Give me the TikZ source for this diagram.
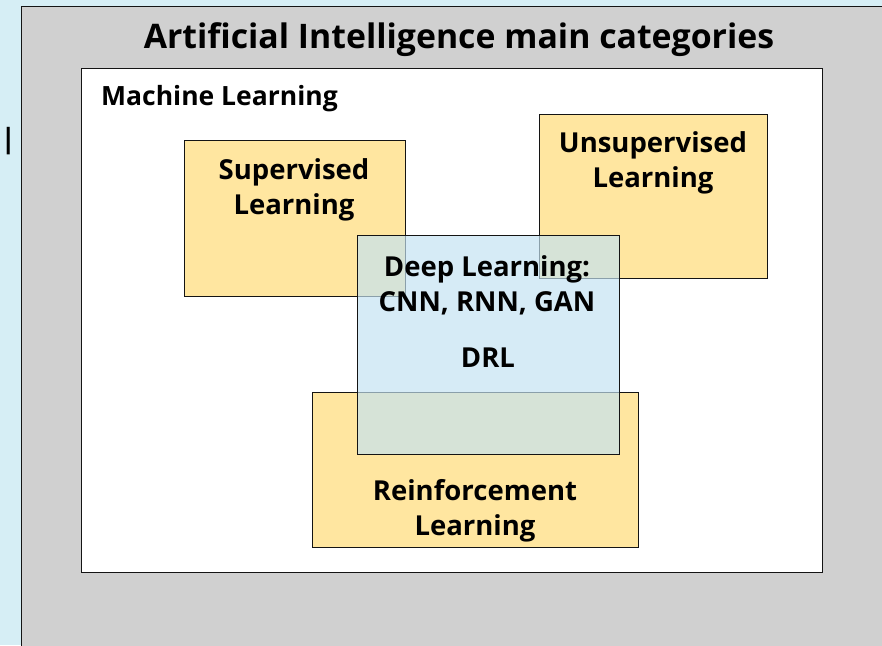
\documentclass[tikz,border=0pt]{standalone}
\usepackage{fontspec}
\setmainfont{Open Sans}
\definecolor{sidebg}{RGB}{214,238,245}
\definecolor{panelgray}{RGB}{208,208,208}
\definecolor{softgold}{RGB}{255,230,160}
\definecolor{dlblue}{RGB}{195,226,242}
\definecolor{edge}{RGB}{20,20,20}
\tikzset{
  area/.style={draw=edge, line width=1.4pt, anchor=north west, inner sep=0pt, rectangle},
  catbox/.style={area, fill=softgold},
  lbl/.style={font=\bfseries\fontsize{27.5}{35}\selectfont, text=black, align=center, inner sep=0pt},
}
\begin{document}
\begin{tikzpicture}[x=1pt, y=-1pt]
  % page
  \fill[sidebg] (0,0) rectangle (882,645);
  \useasboundingbox (0,0) rectangle (882,645);
  % outer AI panel
  \node[area, fill=panelgray, minimum width=870pt, minimum height=650pt] (ai) at (20.5,5.5) {};
  \node[font=\bfseries\fontsize{33.8}{40}\selectfont, inner sep=0pt] (title) at (459,40) {Artificial Intelligence main categories};
  % machine learning panel
  \node[area, fill=white, minimum width=741pt, minimum height=504pt] (ml) at (81,68) {};
  \node[font=\bfseries\fontsize{26.5}{30}\selectfont, anchor=west, inner sep=0pt] (mltxt) at (101,99) {Machine Learning};
  % category boxes
  \node[catbox, minimum width=221pt, minimum height=156pt] (sup) at (184,140) {};
  \node[catbox, minimum width=228pt, minimum height=164pt] (unsup) at (539,114) {};
  \node[catbox, minimum width=326pt, minimum height=155pt] (rl) at (312,392) {};
  % deep learning box (translucent)
  \node[area, fill=dlblue, fill opacity=0.68, minimum width=262pt, minimum height=219pt] (dl) at (357,235) {};
  % labels
  \node[lbl] (suptxt) at (294,189.5) {Supervised\\Learning};
  \node[lbl] (unsuptxt) at (653,162.5) {Unsupervised\\Learning};
  \node[lbl] (dltxt) at (487,285.5) {Deep Learning:\\CNN, RNN, GAN};
  \node[lbl] (drl) at (488,358) {DRL};
  \node[lbl] (rltxt) at (475,511) {Reinforcement\\Learning};
  \node[font=\bfseries\fontsize{28}{32}\selectfont, inner sep=0pt, anchor=west] (bar) at (0.5,141) {|};
\end{tikzpicture}
\end{document}
